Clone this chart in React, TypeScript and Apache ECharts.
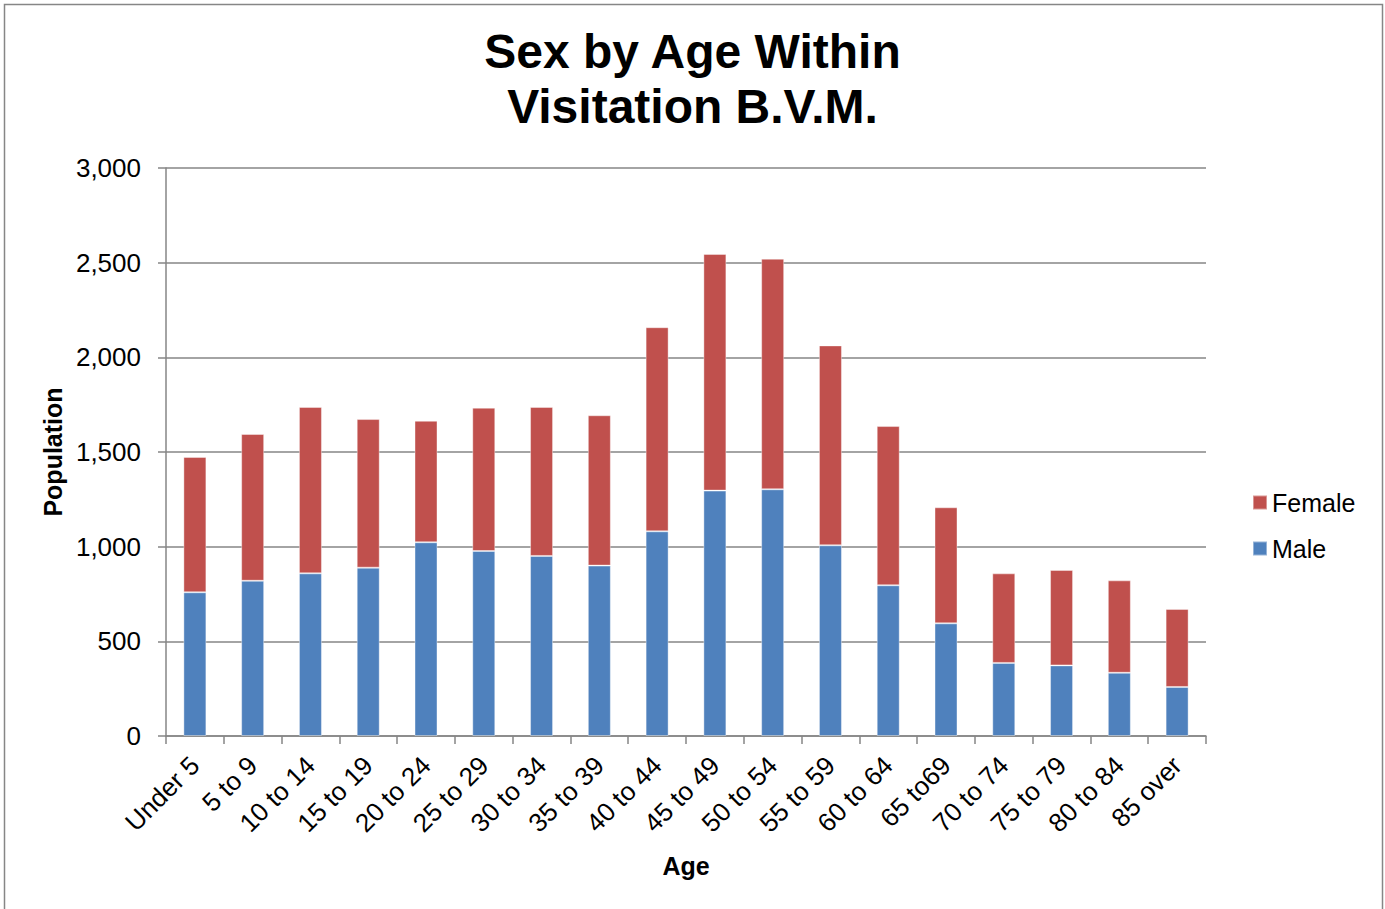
import React, { useEffect, useRef } from "react";
import * as echarts from "echarts";

const categories = [
  "Under 5", "5 to 9", "10 to 14", "15 to 19", "20 to 24", "25 to 29",
  "30 to 34", "35 to 39", "40 to 44", "45 to 49", "50 to 54", "55 to 59",
  "60 to 64", "65 to69", "70 to 74", "75 to 79", "80 to 84", "85 over",
];
const maleValues = [759, 820, 859, 889, 1023, 977, 951, 900, 1081, 1296, 1303, 1007, 796, 595, 386, 373, 334, 259];
const femaleValues = [715, 775, 879, 785, 642, 757, 787, 794, 1078, 1250, 1218, 1056, 841, 613, 473, 504, 488, 412];
const yTicks = { min: 0, max: 3000, interval: 500 };

const FONT = "'Liberation Sans', Arial, Helvetica, sans-serif";
const GREY = "#868686";

export default function App() {
  const ref = useRef<HTMLDivElement>(null);
  useEffect(() => {
    if (!ref.current) return;
    const chart = echarts.init(ref.current, null, { renderer: "svg" });
    chart.setOption({
      animation: false,
      backgroundColor: "#ffffff",
      title: {
        text: "Sex by Age Within\nVisitation B.V.M.",
        left: "center",
        top: 19,
        textStyle: { fontFamily: FONT, fontSize: 48, fontWeight: "bold", color: "#000", lineHeight: 55 },
      },
      legend: {
        orient: "vertical",
        left: 1247,
        top: 485,
        itemWidth: 14,
        itemHeight: 14,
        itemGap: 21,
        itemTextGap: 6,
        icon: "rect",
        data: ["Female", "Male"],
        textStyle: { fontFamily: FONT, fontSize: 25, color: "#000" },
      },
      grid: { left: 166, right: 179, top: 168, bottom: 173, containLabel: false },
      xAxis: {
        type: "category",
        data: categories,
        axisLine: { show: true, lineStyle: { color: GREY, width: 1.5 } },
        axisTick: { show: true, length: 8, lineStyle: { color: GREY, width: 1.5 } },
        axisLabel: { interval: 0, rotate: 45, margin: 25, fontFamily: FONT, fontSize: 26, color: "#000" },
      },
      yAxis: {
        type: "value",
        min: yTicks.min,
        max: yTicks.max,
        interval: yTicks.interval,
        axisLine: { show: true, lineStyle: { color: GREY, width: 1.5 } },
        axisTick: { show: true, length: 8, lineStyle: { color: GREY, width: 1.5 } },
        splitLine: { show: true, lineStyle: { color: GREY, width: 1.5 } },
        axisLabel: {
          margin: 25,
          fontFamily: FONT,
          fontSize: 26,
          color: "#000",
          formatter: (v: number) => v.toLocaleString("en-US"),
        },
      },
      series: [
        {
          name: "Male",
          type: "bar",
          stack: "total",
          barWidth: 23,
          data: maleValues,
          itemStyle: { color: "#4F81BD", borderColor: "rgba(255,255,255,0.4)", borderWidth: 1 },
        },
        {
          name: "Female",
          type: "bar",
          stack: "total",
          barWidth: 23,
          data: femaleValues,
          itemStyle: { color: "#C0504D", borderColor: "rgba(255,255,255,0.4)", borderWidth: 1 },
        },
      ],
      graphic: [
        {
          type: "rect",
          shape: { x: 4.5, y: 4.5, width: 1378, height: 920 },
          style: { fill: "none", stroke: GREY, lineWidth: 1.5 },
          silent: true,
        },
        {
          type: "text",
          x: 53,
          y: 452,
          rotation: Math.PI / 2,
          style: {
            text: "Population",
            align: "center",
            verticalAlign: "middle",
            fontFamily: FONT,
            fontSize: 25,
            fontWeight: "bold",
            fill: "#000",
          },
        },
        {
          type: "text",
          x: 686,
          y: 866,
          style: {
            text: "Age",
            align: "center",
            verticalAlign: "middle",
            fontFamily: FONT,
            fontSize: 25,
            fontWeight: "bold",
            fill: "#000",
          },
        },
      ],
    });
    return () => chart.dispose();
  }, []);
  return (
    <div
      ref={ref}
      style={{ position: "absolute", left: 0, top: 0, width: 1385, height: 909 }}
    />
  );
}
